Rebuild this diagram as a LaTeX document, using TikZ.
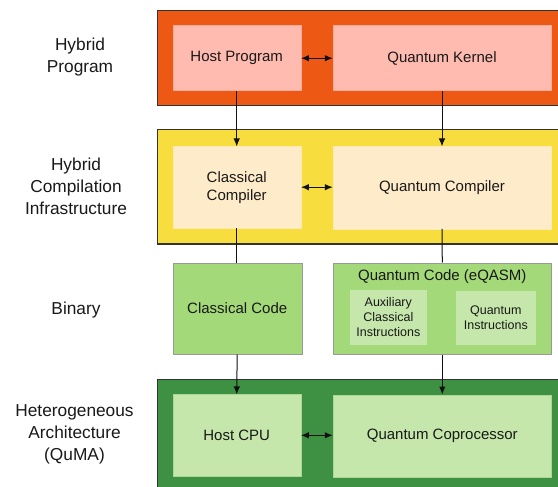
\documentclass[tikz,border=0pt]{standalone}
\usepackage{fontspec}
\setmainfont{Liberation Sans}
\usetikzlibrary{arrows.meta}
\definecolor{orangeO}{HTML}{EE5815}
\definecolor{pinkI}{HTML}{FFBBB0}
\definecolor{yellowO}{HTML}{F7DD3D}
\definecolor{creamI}{HTML}{FEEBC9}
\definecolor{greenM}{HTML}{A4D979}
\definecolor{greenL}{HTML}{C6E7AB}
\definecolor{greenD}{HTML}{3E9043}
\definecolor{lineC}{HTML}{111111}
\tikzset{
  outerbox/.style={draw=black!80, line width=1.2pt},
  inbox/.style={rectangle, inner sep=0pt, align=center, font=\fontsize{15}{18}\selectfont, text=black!90},
  subbox/.style={rectangle, inner sep=0pt, align=center, font=\fontsize{12.5}{15}\selectfont, text=black!90, fill=greenL},
  lvl/.style={align=center, font=\fontsize{17.3}{22}\selectfont, text=black!90},
  conn/.style={draw=lineC, line width=1pt},
  arr/.style={conn, -{Latex[length=8pt,width=6.5pt]}},
  darr/.style={conn, {Latex[length=8pt,width=6.5pt]}-{Latex[length=8pt,width=6.5pt]}},
}
\begin{document}
\begin{tikzpicture}[x=1pt,y=-1pt]
\useasboundingbox (0,0) rectangle (558,487);
\clip (0,0) rectangle (558,487);
\fill[white] (0,0) rectangle (558,487);
% outer layers
\draw[outerbox, fill=orangeO] (157.3,10.7) rectangle (570,105.3);
\draw[outerbox, fill=yellowO] (157.3,129.3) rectangle (570,244);
\draw[outerbox, fill=greenD] (157.3,379.3) rectangle (570,500);
% level labels
\node[lvl] (l1) at (80,57) {Hybrid\\Program};
\node[lvl] (l2) at (76,186) {Hybrid\\Compilation\\Infrastructure};
\node[lvl] (l3) at (76,310) {Binary};
\node[lvl] (l4) at (74.5,434) {Heterogeneous\\Architecture\\(QuMA)};
% row 1
\node[inbox, fill=pinkI, draw=pinkI!85!orangeO, minimum width=128, minimum height=65] (hp) at (236.7,58.2) {Host Program};
\node[inbox, fill=pinkI, draw=pinkI!85!orangeO, minimum width=218, minimum height=65] (qk) at (442,58.2) {Quantum Kernel};
% row 2
\node[inbox, fill=creamI, draw=creamI!85!yellowO, minimum width=128, minimum height=81] (cc) at (236.7,187.2) {Classical\\Compiler};
\node[inbox, fill=creamI, draw=creamI!85!yellowO, minimum width=218, minimum height=82] (qc) at (442,187.7) {Quantum Compiler};
% row 3
\node[inbox, fill=greenM, draw=black!40, minimum width=129, minimum height=91.6] (ccode) at (237.2,308.5) {Classical Code};
\node[inbox, fill=greenM, draw=black!40, minimum width=218.7, minimum height=91.6] (qcode) at (442.3,308.5) {};
\node[inbox] (qct) at (442.3,276.7) {Quantum Code (eQASM)};
\node[subbox, minimum width=76.7, minimum height=55] (aux) at (388.3,317.5) {Auxiliary\\Classical\\Instructions};
\node[subbox, minimum width=80.3, minimum height=54.3] (qi) at (495.8,317.8) {Quantum\\Instructions};
% row 4
\node[inbox, fill=greenL, draw=greenL!80!greenD, minimum width=128, minimum height=81.3] (cpu) at (236.7,435.3) {Host CPU};
\node[inbox, fill=greenL, draw=greenL!80!greenD, minimum width=218.7, minimum height=82] (qcp) at (442.3,435.7) {Quantum Coprocessor};
% connectors
\draw[darr] (hp.east) -- (qk.west);
\draw[darr] (cc.east) -- (qc.west |- cc.east);
\draw[darr] (cpu.east) -- (qcp.west |- cpu.east);
\draw[arr] (hp.south) -- (cc.north);
\draw[arr] (qk.south) -- (qc.north);
\draw[conn] (cc.south) -- (cc.south |- ccode.north);
\draw[conn] (qc.south) -- (qcode.north);
\draw[arr] (ccode.south) -- (cpu.north);
\draw[arr] (qcode.south) -- (qcp.north);
\end{tikzpicture}
\end{document}
